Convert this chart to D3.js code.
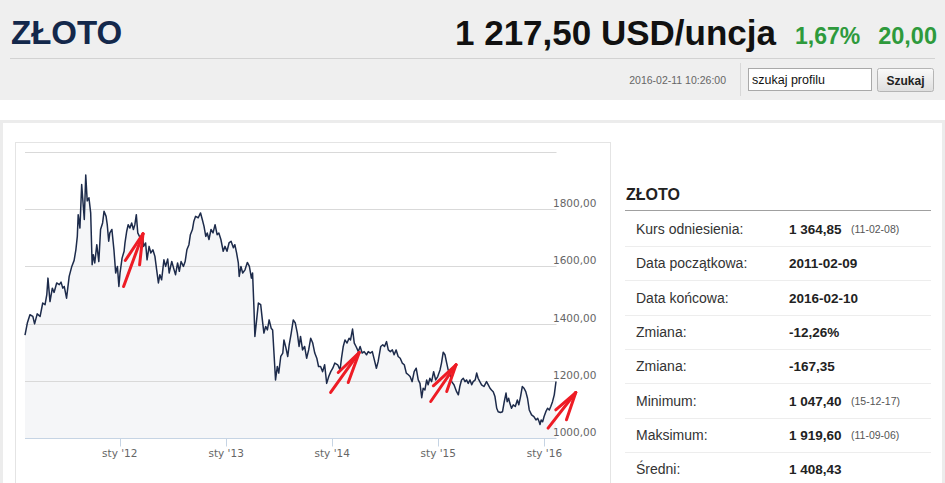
<!DOCTYPE html>
<html>
<head>
<meta charset="utf-8">
<script src="https://cdn.jsdelivr.net/npm/d3@7"></script>
<style>
  html, body { margin: 0; padding: 0; background: #fff; }
  svg { display: block; }
</style>
</head>
<body>
<svg id="page" width="945" height="483"></svg>
<script>
// gold price, USD/ounce
const gold2011 = [
  ['2011-02-09', 1360], ['2011-02-17', 1402], ['2011-02-26', 1431], ['2011-03-08', 1425], ['2011-03-14', 1399],
  ['2011-03-23', 1434], ['2011-04-02', 1425], ['2011-04-11', 1472], ['2011-04-19', 1466], ['2011-04-25', 1501],
  ['2011-04-29', 1559], ['2011-05-06', 1477], ['2011-05-14', 1524], ['2011-05-20', 1509], ['2011-05-29', 1542],
  ['2011-06-07', 1536], ['2011-06-13', 1545], ['2011-06-19', 1524], ['2011-06-24', 1530], ['2011-07-02', 1489],
  ['2011-07-11', 1565], ['2011-07-20', 1600], ['2011-07-28', 1621], ['2011-08-03', 1658], ['2011-08-08', 1705],
  ['2011-08-11', 1781], ['2011-08-17', 1734], ['2011-08-23', 1886], ['2011-08-29', 1805], ['2011-09-01', 1764],
  ['2011-09-06', 1919.6], ['2011-09-11', 1829], ['2011-09-17', 1840], ['2011-09-23', 1787], ['2011-09-28', 1606],
  ['2011-10-02', 1641], ['2011-10-07', 1612], ['2011-10-14', 1676], ['2011-10-21', 1617], ['2011-10-27', 1729],
  ['2011-11-03', 1752], ['2011-11-08', 1793], ['2011-11-15', 1775], ['2011-11-19', 1746], ['2011-11-24', 1688],
  ['2011-11-28', 1717], ['2011-12-05', 1729], ['2011-12-12', 1658], ['2011-12-18', 1577], ['2011-12-24', 1600],
  ['2011-12-29', 1530]
]
const gold2012 = [
  ['2012-01-02', 1577], ['2012-01-09', 1629], ['2012-01-16', 1653], ['2012-01-19', 1682], ['2012-01-25', 1723],
  ['2012-01-30', 1746], ['2012-02-05', 1734], ['2012-02-11', 1752], ['2012-02-17', 1729], ['2012-02-22', 1746],
  ['2012-02-27', 1781], ['2012-03-03', 1717], ['2012-03-11', 1700], ['2012-03-19', 1711], ['2012-03-23', 1670],
  ['2012-03-30', 1682], ['2012-04-04', 1623], ['2012-04-11', 1670], ['2012-04-17', 1647], ['2012-04-24', 1658],
  ['2012-05-01', 1635], ['2012-05-07', 1588], ['2012-05-13', 1542], ['2012-05-18', 1571], ['2012-05-24', 1553],
  ['2012-06-01', 1623], ['2012-06-07', 1600], ['2012-06-14', 1626], ['2012-06-19', 1577], ['2012-06-28', 1617],
  ['2012-07-06', 1588], ['2012-07-11', 1571], ['2012-07-18', 1612], ['2012-07-24', 1583], ['2012-07-30', 1617],
  ['2012-08-07', 1600], ['2012-08-13', 1617], ['2012-08-19', 1658], ['2012-08-26', 1676], ['2012-08-31', 1711],
  ['2012-09-07', 1729], ['2012-09-12', 1758], ['2012-09-18', 1775], ['2012-09-27', 1770], ['2012-10-05', 1787],
  ['2012-10-11', 1764], ['2012-10-17', 1740], ['2012-10-23', 1705], ['2012-10-28', 1717], ['2012-11-03', 1694],
  ['2012-11-10', 1729], ['2012-11-17', 1717], ['2012-11-24', 1746], ['2012-12-01', 1711], ['2012-12-07', 1717],
  ['2012-12-14', 1694], ['2012-12-22', 1653], ['2012-12-28', 1670]
]
const gold2013 = [
  ['2013-01-04', 1653], ['2013-01-11', 1682], ['2013-01-18', 1688], ['2013-01-26', 1665], ['2013-01-31', 1676],
  ['2013-02-06', 1647], ['2013-02-12', 1612], ['2013-02-15', 1565], ['2013-02-21', 1600], ['2013-02-27', 1577],
  ['2013-03-07', 1588], ['2013-03-15', 1614], ['2013-03-22', 1600], ['2013-03-29', 1559], ['2013-04-02', 1577],
  ['2013-04-07', 1448], ['2013-04-10', 1355], ['2013-04-16', 1413], ['2013-04-22', 1472], ['2013-04-30', 1466],
  ['2013-05-05', 1419], ['2013-05-11', 1367], ['2013-05-17', 1390], ['2013-05-23', 1378], ['2013-05-29', 1413],
  ['2013-06-05', 1384], ['2013-06-10', 1378], ['2013-06-15', 1291], ['2013-06-20', 1203], ['2013-06-26', 1250],
  ['2013-07-01', 1227], ['2013-07-08', 1285], ['2013-07-15', 1297], ['2013-07-19', 1343], ['2013-07-26', 1314],
  ['2013-08-01', 1285], ['2013-08-06', 1326], ['2013-08-13', 1367], ['2013-08-20', 1413], ['2013-08-27', 1402],
  ['2013-09-03', 1367], ['2013-09-09', 1320], ['2013-09-14', 1355], ['2013-09-21', 1308], ['2013-09-28', 1320],
  ['2013-10-05', 1279], ['2013-10-12', 1308], ['2013-10-19', 1349], ['2013-10-26', 1332], ['2013-11-02', 1297],
  ['2013-11-09', 1279], ['2013-11-15', 1250], ['2013-11-22', 1250], ['2013-11-29', 1232], ['2013-12-06', 1256],
  ['2013-12-13', 1191], ['2013-12-20', 1215], ['2013-12-27', 1232]
]
const gold2014 = [
  ['2014-01-03', 1244], ['2014-01-10', 1262], ['2014-01-20', 1256], ['2014-01-28', 1238], ['2014-02-02', 1279],
  ['2014-02-08', 1320], ['2014-02-14', 1343], ['2014-02-21', 1332], ['2014-02-28', 1349], ['2014-03-05', 1343],
  ['2014-03-12', 1381], ['2014-03-18', 1332], ['2014-03-24', 1320], ['2014-04-01', 1302], ['2014-04-07', 1320],
  ['2014-04-14', 1297], ['2014-04-21', 1302], ['2014-04-29', 1291], ['2014-05-05', 1302], ['2014-05-12', 1297],
  ['2014-05-19', 1302], ['2014-05-26', 1273], ['2014-06-02', 1244], ['2014-06-08', 1267], ['2014-06-17', 1320],
  ['2014-06-24', 1326], ['2014-06-30', 1320], ['2014-07-07', 1337], ['2014-07-13', 1308], ['2014-07-20', 1302],
  ['2014-07-27', 1308], ['2014-08-02', 1291], ['2014-08-09', 1308], ['2014-08-16', 1285], ['2014-08-23', 1279],
  ['2014-08-30', 1262], ['2014-09-06', 1256], ['2014-09-13', 1227], ['2014-09-20', 1221], ['2014-09-26', 1215],
  ['2014-10-03', 1197], ['2014-10-10', 1232], ['2014-10-17', 1244], ['2014-10-24', 1203], ['2014-10-30', 1191],
  ['2014-11-05', 1141], ['2014-11-10', 1174], ['2014-11-16', 1168], ['2014-11-22', 1203], ['2014-11-27', 1186],
  ['2014-12-03', 1209], ['2014-12-09', 1197], ['2014-12-16', 1232], ['2014-12-23', 1203], ['2014-12-30', 1215]
]
const gold2015 = [
  ['2015-01-07', 1238], ['2015-01-12', 1262], ['2015-01-18', 1300], ['2015-01-24', 1291], ['2015-01-30', 1262],
  ['2015-02-04', 1238], ['2015-02-10', 1227], ['2015-02-16', 1197], ['2015-02-24', 1186], ['2015-03-05', 1162],
  ['2015-03-11', 1151], ['2015-03-16', 1180], ['2015-03-22', 1203], ['2015-03-28', 1209], ['2015-04-03', 1197],
  ['2015-04-08', 1203], ['2015-04-14', 1191], ['2015-04-20', 1203], ['2015-04-26', 1186], ['2015-05-01', 1197],
  ['2015-05-08', 1203], ['2015-05-13', 1227], ['2015-05-18', 1209], ['2015-05-24', 1197], ['2015-05-30', 1186],
  ['2015-06-07', 1180], ['2015-06-16', 1197], ['2015-06-22', 1186], ['2015-06-28', 1174], ['2015-07-03', 1168],
  ['2015-07-09', 1162], ['2015-07-15', 1145], ['2015-07-21', 1104], ['2015-07-26', 1092], ['2015-08-03', 1089],
  ['2015-08-10', 1092], ['2015-08-16', 1127], ['2015-08-22', 1157], ['2015-08-26', 1127], ['2015-08-31', 1139],
  ['2015-09-04', 1122], ['2015-09-10', 1104], ['2015-09-16', 1116], ['2015-09-23', 1110], ['2015-09-30', 1133],
  ['2015-10-05', 1116], ['2015-10-11', 1145], ['2015-10-17', 1180], ['2015-10-23', 1174], ['2015-10-29', 1162],
  ['2015-11-04', 1139], ['2015-11-10', 1098], ['2015-11-18', 1081], ['2015-11-26', 1075], ['2015-12-03', 1063],
  ['2015-12-09', 1069], ['2015-12-14', 1057], ['2015-12-17', 1047.4], ['2015-12-21', 1063], ['2015-12-26', 1057],
  ['2015-12-31', 1075]
]
const gold2016 = [
  ['2016-01-06', 1092], ['2016-01-12', 1104], ['2016-01-18', 1098], ['2016-01-23', 1110], ['2016-01-29', 1127],
  ['2016-02-04', 1151], ['2016-02-10', 1197.5]
]

const dateRange = ['2011-02-09', '2016-02-10']
const yTicks = [1000, 1200, 1400, 1600, 1800, 2000]
const yLabelTicks = [1000, 1200, 1400, 1600, 1800]
const xTickPrefix = 'sty'

// hand drawn red arrows: tip in chart data, stroke offsets in px from the tip
const arrowTips = [['2012-03-21', 1714], ['2014-04-04', 1299], ['2015-03-03', 1256], ['2016-04-18', 1159]]
const arrowStrokes = [
  [[-19.4, 52.7], [-17.7, 26.7], [-3.4, 31]],
  [[-28.6, 40], [-21, 20], [-11, 30]],
  [[-25.3, 36.7], [-22.7, 21], [-9.3, 26.7]],
  [[-27.7, 35.6], [-20, 17.3], [-9.3, 27.3]]
]

const header = { name: 'ZŁOTO', price: '1 217,50 USD/uncja', pct: '1,67%', change: '20,00', stamp: '2016-02-11 10:26:00' }
const statLabels = ['Kurs odniesienia:', 'Data początkowa:', 'Data końcowa:', 'Zmiana:', 'Zmiana:', 'Minimum:', 'Maksimum:', 'Średni:']
const statValues = ['1 364,85', '2011-02-09', '2016-02-10', '-12,26%', '-167,35', '1 047,40', '1 919,60', '1 408,43']
const statDates = ['(11-02-08)', '', '', '', '', '(15-12-17)', '(11-09-06)', '']

const conf = {
  fontFamily: '"Liberation Sans", Arial, sans-serif',
  axisFont: '"DejaVu Sans", Verdana, sans-serif',
  plot: { left: 25, right: 556, top: 152, bottom: 438 },
  lineColor: '#1d2b4b',
  areaColor: '#f5f6f8',
  gridColor: '#d9d9d9',
  axisColor: '#c6d4e4',
  labelColor: '#666',
  arrowColor: '#ee1c25',
  rowTop: 234,
  rowStep: 34.3
}

const parseDate = d3.timeParse('%Y-%m-%d')
const series = [].concat(gold2011, gold2012, gold2013, gold2014, gold2015, gold2016)
  .map(([d, v]) => ({ date: parseDate(d), value: v }))

const svg = d3.select('#page')

function drawHeader () {
  svg.append('rect').attr('width', 945).attr('height', 100).attr('fill', '#efefef')
  svg.append('line').attr('x1', 10).attr('x2', 935).attr('y1', 58.5).attr('y2', 58.5).attr('stroke', '#d2d2d2')

  svg.append('text').attr('x', 11).attr('y', 44)
    .attr('font-family', conf.fontFamily).attr('font-weight', 'bold').attr('font-size', 33)
    .attr('fill', '#14284b').text(header.name)

  svg.append('text').attr('x', 776).attr('y', 45).attr('text-anchor', 'end')
    .attr('font-family', conf.fontFamily).attr('font-weight', 'bold').attr('font-size', 35)
    .attr('fill', '#111').text(header.price)

  svg.append('text').attr('x', 795).attr('y', 44)
    .attr('font-family', conf.fontFamily).attr('font-weight', 'bold').attr('font-size', 23)
    .attr('fill', '#2e9a3c').text(header.pct)
  svg.append('text').attr('x', 937).attr('y', 44).attr('text-anchor', 'end')
    .attr('font-family', conf.fontFamily).attr('font-weight', 'bold').attr('font-size', 23.5)
    .attr('fill', '#2e9a3c').text(header.change)

  svg.append('text').attr('x', 726).attr('y', 84).attr('text-anchor', 'end')
    .attr('font-family', conf.fontFamily).attr('font-size', 10.5)
    .attr('fill', '#666').text(header.stamp)
  svg.append('line').attr('x1', 740.5).attr('x2', 740.5).attr('y1', 63).attr('y2', 96).attr('stroke', '#d8d8d8')

  // search box + button
  svg.append('rect').attr('x', 748.5).attr('y', 68.5).attr('width', 123).attr('height', 22)
    .attr('fill', '#fff').attr('stroke', '#a9a9a9')
  svg.append('text').attr('x', 752).attr('y', 84)
    .attr('font-family', conf.fontFamily).attr('font-size', 12.5).attr('fill', '#111').text('szukaj profilu')

  const grad = svg.append('defs').append('linearGradient').attr('id', 'btn').attr('x2', 0).attr('y2', 1)
  grad.append('stop').attr('offset', 0).attr('stop-color', '#fafafa')
  grad.append('stop').attr('offset', 1).attr('stop-color', '#dedede')
  svg.append('rect').attr('x', 877.5).attr('y', 68.5).attr('width', 56).attr('height', 23).attr('rx', 2)
    .attr('fill', 'url(#btn)').attr('stroke', '#b5b5b5')
  svg.append('text').attr('x', 905.5).attr('y', 85).attr('text-anchor', 'middle')
    .attr('font-family', conf.fontFamily).attr('font-weight', 'bold').attr('font-size', 12)
    .attr('fill', '#222').text('Szukaj')
}

function drawFrame () {
  svg.append('rect').attr('y', 120).attr('width', 945).attr('height', 363).attr('fill', '#ececec')
  svg.append('rect').attr('x', 3).attr('y', 123).attr('width', 939).attr('height', 360).attr('fill', '#fff')
  svg.append('rect').attr('x', 15.5).attr('y', 142.5).attr('width', 595).attr('height', 360)
    .attr('fill', '#fff').attr('stroke', '#e4e4e4')
}

function drawChart () {
  const p = conf.plot
  const x = d3.scaleTime().domain(dateRange.map(parseDate)).range([p.left, p.right])
  const y = d3.scaleLinear().domain([1000, 2000]).range([p.bottom, p.top])
  const fmt = v => d3.format('.2f')(v).replace('.', ',')

  const g = svg.append('g')

  g.append('path').datum(series)
    .attr('fill', conf.areaColor)
    .attr('d', d3.area().x(d => x(d.date)).y0(p.bottom).y1(d => y(d.value)))

  g.selectAll('.grid').data(yTicks.slice(1)).join('line')
    .attr('x1', p.left).attr('x2', p.right + 0.5)
    .attr('y1', d => Math.round(y(d)) + 0.5).attr('y2', d => Math.round(y(d)) + 0.5)
    .attr('stroke', conf.gridColor)

  g.selectAll('.ylab').data(yLabelTicks).join('text')
    .attr('x', p.right - 3).attr('y', d => y(d) - 2)
    .attr('font-family', conf.axisFont).attr('font-size', 10.5).attr('fill', conf.labelColor)
    .text(fmt)

  // x axis
  const years = x.ticks(d3.timeYear.every(1)).filter(d => d > x.domain()[0])
  const xAxis = g.append('g').attr('transform', `translate(0,${Math.round(p.bottom) + 0.5})`)
  xAxis.append('line').attr('x1', p.left).attr('x2', p.right + 0.5).attr('stroke', conf.axisColor)
  xAxis.selectAll('.tick').data(years).join('line')
    .attr('x1', d => Math.round(x(d)) + 0.5).attr('x2', d => Math.round(x(d)) + 0.5)
    .attr('y1', 0).attr('y2', 8).attr('stroke', conf.axisColor)
  xAxis.selectAll('.xlab').data(years).join('text')
    .attr('x', d => x(d)).attr('y', 18.5).attr('text-anchor', 'middle')
    .attr('font-family', conf.axisFont).attr('font-size', 10.5).attr('fill', conf.labelColor)
    .text(d => `${xTickPrefix} '${d3.timeFormat('%y')(d)}`)

  g.append('path').datum(series)
    .attr('fill', 'none').attr('stroke', conf.lineColor).attr('stroke-width', 1.5)
    .attr('stroke-linejoin', 'round')
    .attr('d', d3.line().x(d => x(d.date)).y(d => y(d.value)))

  // red annotation arrows
  arrowTips.forEach(([d, v], i) => {
    const tx = x(parseDate(d))
    const ty = y(v)
    arrowStrokes[i].forEach(([dx, dy]) => {
      g.append('line')
        .attr('x1', tx + dx).attr('y1', ty + dy).attr('x2', tx).attr('y2', ty)
        .attr('stroke', conf.arrowColor).attr('stroke-width', 3).attr('stroke-linecap', 'round')
    })
  })
}

function drawStats () {
  const g = svg.append('g').attr('font-family', conf.fontFamily)
  g.append('text').attr('x', 626).attr('y', 200)
    .attr('font-weight', 'bold').attr('font-size', 16).attr('fill', '#222').text(header.name)
  g.append('line').attr('x1', 625).attr('x2', 931).attr('y1', 210.5).attr('y2', 210.5).attr('stroke', '#a0a0a0')

  statLabels.forEach((label, i) => {
    const base = conf.rowTop + i * conf.rowStep
    g.append('text').attr('x', 636).attr('y', base).attr('font-size', 14).attr('fill', '#333').text(label)
    g.append('text').attr('x', 789).attr('y', base).attr('font-size', 13.5).attr('font-weight', 'bold')
      .attr('fill', '#222').text(statValues[i])
    if (statDates[i]) {
      g.append('text').attr('x', 851).attr('y', base - 1).attr('font-size', 10.5).attr('fill', '#555').text(statDates[i])
    }
    if (i < statLabels.length - 1) {
      const ly = Math.round(base + 12) + 0.5
      g.append('line').attr('x1', 625).attr('x2', 931).attr('y1', ly).attr('y2', ly).attr('stroke', '#ededed')
    }
  })
}

drawHeader()
drawFrame()
drawChart()
drawStats()
</script>
</body>
</html>
